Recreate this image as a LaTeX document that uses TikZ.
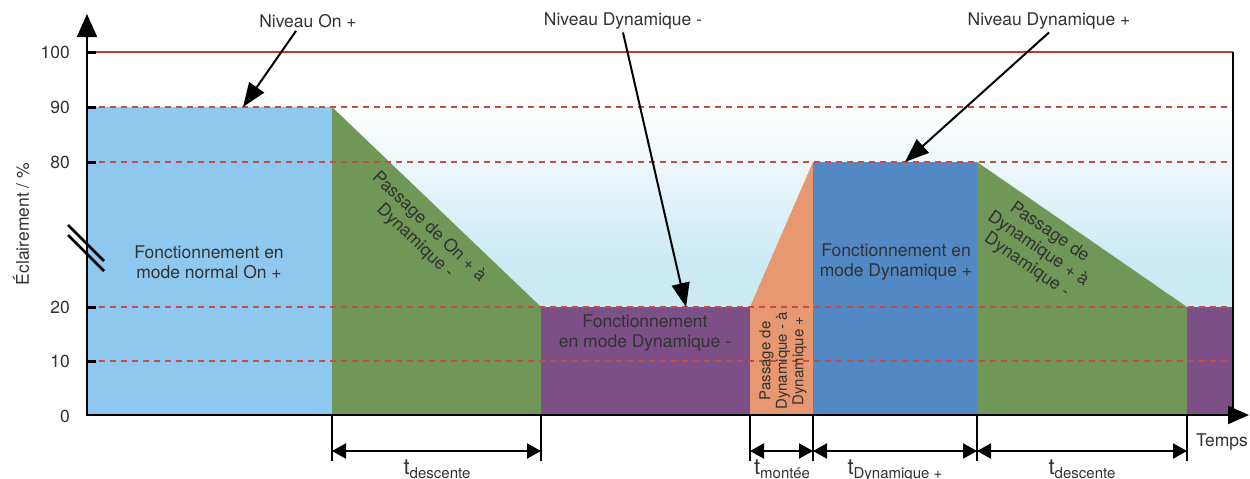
\documentclass[tikz,border=0pt]{standalone}
\usepackage{fontspec}
\setmainfont{TeX Gyre Heros}
\usetikzlibrary{arrows.meta}
\definecolor{cLBlue}{RGB}{142,200,238}
\definecolor{cGreen}{RGB}{112,150,88}
\definecolor{cPurple}{RGB}{124,80,134}
\definecolor{cOrange}{RGB}{232,152,112}
\definecolor{cDBlue}{RGB}{82,136,196}
\definecolor{cBg}{RGB}{204,234,244}
\definecolor{cRed}{RGB}{190,62,52}
\definecolor{cRedDash}{RGB}{196,78,68}
\definecolor{cTxt}{RGB}{50,50,50}
\newcommand{\tsub}[1]{t{\fontsize{15}{15}\selectfont\raisebox{-4pt}{#1}}}
\begin{document}
\begin{tikzpicture}[x=1pt,y=-1pt,
  every node/.style={text=cTxt,font=\fontsize{17.5}{20}\selectfont,inner sep=2pt},
  levelline/.style={cRedDash,line width=1.8pt,dash pattern=on 6pt off 5pt},
  axisline/.style={line width=2pt,black},
  ticklbl/.style={anchor=east},
  tickmark/.style={line width=3pt,black},
  callout/.style={line width=2pt,black,-{Triangle[length=24pt,width=18pt]}},
  dimtick/.style={line width=2pt,black},
  dimarrow/.style={line width=2pt,black,{Triangle[length=14pt,width=15pt]}-{Triangle[length=14pt,width=15pt]}},
  dimlbl/.style={anchor=base,font=\fontsize{22}{22}\selectfont},
  blocktxt/.style={align=center}
]
\useasboundingbox (0,0) rectangle (1250,479);
% background
\fill[white] (87,52) rectangle (1233,110);
\shade[top color=white,bottom color=cBg] (87,109) rectangle (1233,262);
\fill[cBg] (87,261) rectangle (1233,415);
% areas
\fill[cLBlue] (87,107) rectangle (332,415);
\fill[cGreen] (332,107) -- (541,307) -- (541,415) -- (332,415) -- cycle;
\fill[cPurple] (541,307) rectangle (750,415);
\fill[cOrange] (750,307) -- (813,162) -- (813,415) -- (750,415) -- cycle;
\fill[cDBlue] (813,162) rectangle (977,415);
\fill[cGreen] (977,162) -- (1187,307) -- (1187,415) -- (977,415) -- cycle;
\fill[cPurple] (1187,307) rectangle (1233,415);
% level lines
\draw[cRed,line width=1.8pt] (87,52) -- (1233,52);
\foreach \yy in {107,162,307,361} \draw[levelline] (88,\yy) -- (1228,\yy);
% frame right
\draw[line width=1.3pt,black] (1233,52) -- (1233,415);
% axes
\draw[axisline,-{Triangle[length=23pt,width=20pt]}] (87,416) -- (87,14);
\draw[axisline,-{Triangle[length=21pt,width=18pt]}] (86,415) -- (1249,415);
\foreach \yy in {52,107,162,307,361} \draw[tickmark] (87,\yy) -- (96,\yy);
% axis break
\draw[line width=2.6pt] (68,225) -- (104,261);
\draw[line width=2.6pt] (68,235) -- (104,271);
% tick labels
\node[ticklbl] (l100) at (72,52) {100};
\node[ticklbl] (l90) at (72,107) {90};
\node[ticklbl] (l80) at (72,162) {80};
\node[ticklbl] (l20) at (72,307) {20};
\node[ticklbl] (l10) at (72,361) {10};
\node[ticklbl] (l0) at (72,416) {0};
\node[rotate=90] (ylab) at (21,224) {Éclairement / \%};
\node (temps) at (1222,442) {Temps};
% block texts
\node[blocktxt] (tOn) at (209,262) {Fonctionnement en\\mode normal On +};
\node[blocktxt,rotate=-43.7] (tOnDyn) at (422,234) {Passage de On + à\\Dynamique -};
\node[blocktxt] (tDynM) at (645,333) {Fonctionnement\\en mode Dynamique -};
\node[blocktxt,rotate=90,font=\fontsize{15}{16.5}\selectfont] (tUp) at (783,361) {Passage de\\Dynamique - à\\Dynamique +};
\node[blocktxt] (tDynP) at (896,262) {Fonctionnement en\\mode Dynamique +};
\node[blocktxt,rotate=-34.6] (tDown) at (1038,249) {Passage de\\Dynamique + à\\Dynamique -};
% callouts
\node (nOn) at (308,21) {Niveau On +};
\node (nDm) at (623,21) {Niveau Dynamique -};
\node (nDp) at (1049,21) {Niveau Dynamique +};
\coordinate (pOn) at (243,107);
\coordinate (pDm) at (686,307);
\coordinate (pDp) at (905,162);
\draw[callout] ([xshift=-12pt,yshift=-1pt]nOn.south) -- (pOn);
\draw[callout] ([yshift=-1pt]nDm.south) -- (pDm);
\draw[callout] ([yshift=-1pt]nDp.south) -- (pDp);
% dimension lines
\foreach \xx/\nm in {332/a,541/b,750/c,813/d,977/e,1187/f}{
  \coordinate (\nm top) at (\xx,415);
  \coordinate (\nm bot) at (\xx,461);
  \coordinate (\nm) at (\xx,451);
  \draw[dimtick] (\nm top) -- (\nm bot);
}
\draw[dimarrow] (a) -- (b);
\draw[dimarrow] (c) -- (d);
\draw[dimarrow] (d) -- (e);
\draw[dimarrow] (e) -- (f);
\node[dimlbl] (dl1) at (437,474) {\tsub{descente}};
\node[dimlbl] (dl2) at (782,474) {\tsub{montée}};
\node[dimlbl] (dl3) at (895,474) {\tsub{Dynamique +}};
\node[dimlbl] (dl4) at (1082,474) {\tsub{descente}};
\end{tikzpicture}
\end{document}
